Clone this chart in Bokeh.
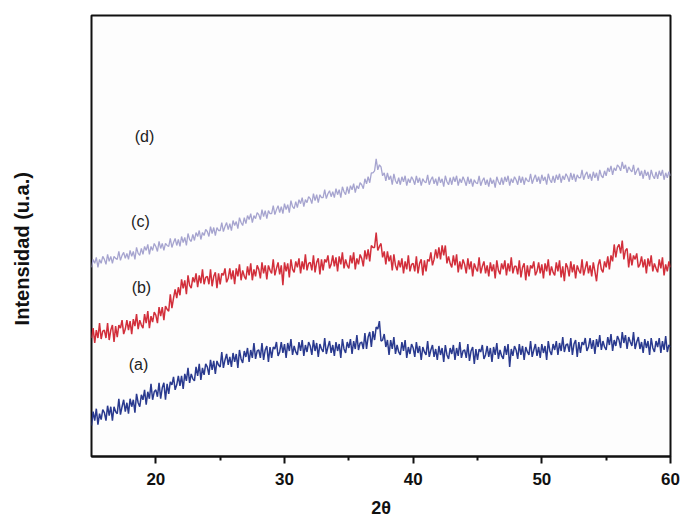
import math
import numpy as np
from bokeh.plotting import figure
from bokeh.layouts import row
from bokeh.models import FixedTicker, Range1d
from bokeh.core.properties import value
from bokeh.embed import file_html
from bokeh.resources import INLINE

# 2-theta sampling grid (degrees), one value every 0.125 deg
two_theta = np.round(np.arange(15.0, 60.0001, 0.125), 3)

# Intensities (arbitrary units); one row per degree, 15..59, then 60
curve_a = [
    31, 45, 36, 48, 32, 43, 37, 47,
    44, 36, 51, 41, 50, 36, 50, 45,
    43, 58, 42, 50, 57, 45, 54, 43,
    58, 50, 57, 44, 63, 54, 50, 62,
    57, 67, 52, 65, 58, 73, 57, 65,
    67, 60, 74, 58, 69, 74, 57, 73,
    63, 75, 72, 80, 67, 72, 81, 71,
    81, 68, 83, 76, 89, 74, 83, 78,
    76, 90, 81, 93, 77, 89, 82, 93,
    90, 82, 97, 87, 96, 83, 96, 92,
    90, 105, 89, 97, 103, 92, 100, 90,
    104, 95, 103, 89, 107, 98, 94, 106,
    100, 109, 95, 107, 99, 114, 98, 106,
    107, 99, 114, 97, 107, 111, 95, 110,
    99, 110, 108, 115, 101, 105, 115, 104,
    113, 99, 114, 106, 118, 102, 111, 105,
    102, 115, 106, 117, 101, 112, 105, 115,
    111, 102, 117, 106, 114, 100, 113, 108,
    105, 119, 103, 110, 116, 104, 112, 101,
    115, 106, 113, 99, 118, 108, 104, 115,
    109, 118, 103, 116, 108, 122, 107, 114,
    115, 108, 124, 108, 120, 125, 110, 126,
    117, 130, 128, 136, 116, 117, 123, 110,
    117, 102, 117, 108, 120, 103, 112, 105,
    102, 115, 106, 117, 99, 110, 103, 113,
    109, 100, 115, 104, 111, 97, 110, 105,
    102, 116, 100, 107, 112, 100, 108, 97,
    111, 102, 109, 95, 112, 102, 98, 109,
    103, 112, 97, 109, 101, 115, 99, 106,
    107, 99, 113, 96, 106, 110, 93, 108,
    97, 108, 105, 112, 98, 102, 111, 100,
    109, 95, 110, 102, 114, 98, 107, 101,
    98, 111, 102, 113, 90, 108, 101, 111,
    107, 98, 113, 102, 111, 97, 110, 105,
    102, 116, 100, 107, 113, 101, 110, 99,
    113, 104, 111, 97, 116, 106, 102, 113,
    107, 116, 102, 114, 106, 120, 105, 112,
    113, 105, 119, 102, 113, 117, 100, 115,
    104, 115, 112, 119, 106, 110, 119, 108,
    117, 103, 118, 110, 122, 107, 116, 110,
    107, 120, 112, 123, 106, 117, 111, 121,
    117, 109, 125, 114, 122, 108, 120, 115,
    111, 125, 108, 115, 120, 108, 115, 104,
    118, 109, 116, 102, 119, 109, 105, 116,
    110, 119, 104, 116, 107, 121, 105, 112,
    110,
]
curve_b = [
    119, 129, 114, 127, 119, 134, 118, 126,
    127, 119, 134, 117, 127, 132, 115, 131,
    120, 132, 129, 137, 123, 128, 137, 127,
    136, 123, 138, 131, 143, 128, 137, 132,
    129, 143, 134, 146, 129, 141, 135, 145,
    142, 134, 150, 141, 150, 137, 151, 148,
    146, 163, 149, 159, 168, 159, 170, 162,
    178, 169, 177, 163, 182, 172, 169, 180,
    175, 184, 170, 182, 174, 188, 173, 180,
    181, 173, 188, 171, 181, 185, 169, 184,
    173, 184, 182, 189, 175, 179, 189, 178,
    187, 173, 189, 181, 193, 177, 187, 181,
    178, 191, 182, 194, 177, 188, 181, 192,
    188, 179, 195, 184, 192, 178, 192, 187,
    184, 198, 182, 189, 195, 183, 192, 172,
    195, 186, 194, 180, 198, 188, 185, 196,
    190, 199, 184, 196, 188, 203, 187, 194,
    195, 187, 202, 185, 195, 199, 183, 198,
    187, 198, 195, 202, 189, 193, 202, 191,
    200, 186, 201, 193, 205, 189, 198, 192,
    189, 202, 194, 205, 188, 199, 193, 203,
    199, 191, 207, 198, 208, 196, 212, 210,
    210, 225, 207, 211, 214, 200, 206, 193,
    206, 196, 202, 187, 203, 192, 187, 197,
    190, 199, 184, 196, 188, 202, 186, 193,
    194, 186, 201, 184, 194, 198, 182, 197,
    186, 198, 196, 205, 192, 198, 208, 199,
    210, 198, 212, 202, 212, 194, 201, 194,
    190, 202, 192, 203, 185, 196, 188, 198,
    193, 184, 199, 188, 196, 181, 194, 189,
    186, 200, 184, 191, 196, 184, 192, 181,
    195, 186, 193, 179, 197, 187, 183, 194,
    188, 197, 182, 194, 186, 200, 184, 191,
    191, 183, 197, 180, 190, 194, 177, 192,
    181, 192, 189, 196, 182, 186, 195, 184,
    193, 179, 194, 186, 198, 182, 191, 185,
    182, 195, 186, 197, 180, 191, 176, 194,
    190, 181, 196, 185, 193, 179, 192, 187,
    184, 198, 182, 189, 196, 184, 192, 181,
    195, 186, 176, 192, 198, 188, 185, 196,
    190, 201, 188, 202, 196, 213, 200, 210,
    213, 204, 217, 198, 207, 209, 190, 204,
    192, 202, 198, 204, 190, 193, 201, 190,
    198, 184, 199, 191, 202, 186, 194, 189,
    185, 198, 189, 200, 182, 193, 186, 196,
    190,
]
curve_c = [
    190, 198, 194, 200, 190, 198, 194, 201,
    198, 193, 203, 196, 201, 194, 201, 199,
    198, 206, 197, 202, 205, 199, 204, 198,
    207, 201, 206, 198, 210, 204, 202, 209,
    203, 211, 207, 213, 203, 211, 207, 214,
    211, 206, 216, 209, 214, 207, 214, 212,
    211, 219, 210, 215, 219, 212, 218, 211,
    221, 215, 220, 212, 224, 218, 216, 223,
    217, 225, 221, 227, 218, 225, 222, 228,
    226, 221, 231, 224, 230, 222, 230, 227,
    227, 235, 226, 231, 235, 228, 234, 227,
    237, 232, 236, 229, 240, 235, 232, 240,
    234, 242, 238, 244, 235, 242, 239, 245,
    243, 238, 248, 241, 247, 239, 247, 244,
    244, 252, 243, 248, 252, 245, 251, 244,
    254, 248, 253, 245, 257, 251, 249, 256,
    250, 258, 254, 260, 251, 258, 255, 261,
    259, 254, 264, 257, 263, 255, 263, 260,
    260, 268, 259, 264, 267, 261, 266, 260,
    269, 263, 268, 260, 271, 266, 263, 271,
    264, 272, 268, 274, 265, 272, 269, 275,
    273, 269, 279, 274, 281, 275, 285, 285,
    287, 299, 288, 293, 291, 282, 285, 277,
    285, 278, 282, 273, 284, 277, 274, 280,
    273, 281, 276, 282, 272, 279, 275, 281,
    278, 273, 282, 275, 280, 272, 279, 276,
    275, 283, 273, 278, 281, 274, 279, 272,
    281, 275, 279, 271, 282, 276, 273, 280,
    273, 281, 276, 282, 272, 279, 275, 281,
    277, 272, 281, 274, 279, 271, 278, 275,
    274, 282, 272, 277, 280, 273, 278, 271,
    280, 274, 278, 270, 281, 276, 273, 280,
    273, 281, 276, 282, 272, 279, 275, 281,
    278, 273, 282, 275, 281, 273, 280, 277,
    276, 284, 274, 279, 283, 276, 281, 274,
    283, 277, 281, 273, 284, 278, 275, 282,
    275, 283, 278, 284, 275, 282, 278, 284,
    281, 276, 285, 278, 284, 276, 283, 280,
    280, 288, 278, 283, 286, 279, 284, 277,
    286, 280, 285, 277, 288, 282, 280, 287,
    282, 290, 286, 292, 283, 290, 287, 293,
    291, 287, 296, 289, 293, 285, 291, 288,
    286, 293, 283, 287, 290, 282, 287, 279,
    288, 282, 286, 278, 288, 282, 279, 286,
    279, 287, 282, 288, 278, 285, 280, 286,
    282,
]

series_colors = ["#2a3a8f", "#d22f3b", "#a6a4cf"]
series_widths = [1.5, 1.5, 1.3]

label_text = ["(a)", "(b)", "(c)", "(d)"]
label_x = [18.65, 18.88, 18.8, 19.12]
label_y = [92, 170, 236, 321]

major_ticks = [20, 30, 40, 50, 60]
minor_ticks = [25, 35, 45, 55]

y_title = "Intensidad (u.a.)"
x_title = "2θ"

FONT = "Liberation Sans"

# narrow side panel that carries the vertical axis title (pixel coordinates)
side = figure(width=90, height=520, output_backend="svg", toolbar_location=None,
              x_range=Range1d(0, 90), y_range=Range1d(0, 520),
              min_border=0, min_border_left=0, min_border_right=0,
              min_border_top=0, min_border_bottom=0)
side.axis.visible = False
side.grid.visible = False
side.outline_line_color = None
side.background_fill_color = "#ffffff"
side.border_fill_color = "#ffffff"
side.text(x=[21], y=[245], text=[y_title], angle=math.pi / 2,
          text_font=value(FONT), text_font_style="bold", text_font_size="20px",
          text_color="#111111", text_align="center", text_baseline="middle")

p = figure(width=591, height=520, output_backend="svg", toolbar_location=None,
           x_range=Range1d(15, 60), y_range=Range1d(0, 443),
           min_border_left=1, min_border_right=11, min_border_top=15, min_border_bottom=62)
p.background_fill_color = "#fdfdfd"
p.border_fill_color = "#ffffff"
p.outline_line_color = "#111111"
p.outline_line_width = 2
p.grid.visible = False
p.yaxis.visible = False

for ys, col, lw in zip([curve_a, curve_b, curve_c], series_colors, series_widths):
    p.line(two_theta, ys, line_color=col, line_width=lw)

p.text(x=label_x, y=label_y, text=label_text, text_font=value(FONT),
       text_font_size="16px", text_color="#222222", text_align="center",
       text_baseline="middle")

xa = p.xaxis[0]
xa.ticker = FixedTicker(ticks=major_ticks, minor_ticks=minor_ticks)
xa.axis_line_color = "#111111"
xa.axis_line_width = 2
xa.major_tick_line_color = "#111111"
xa.major_tick_line_width = 2
xa.major_tick_out = 7
xa.major_tick_in = 0
xa.minor_tick_line_color = "#111111"
xa.minor_tick_line_width = 2
xa.minor_tick_out = 4
xa.minor_tick_in = 0
xa.major_label_text_font = FONT
xa.major_label_text_font_style = "bold"
xa.major_label_text_font_size = "17px"
xa.major_label_text_color = "#111111"
xa.major_label_standoff = 9
xa.axis_label = x_title
xa.axis_label_text_font = FONT
xa.axis_label_text_font_style = "bold"
xa.axis_label_text_font_size = "18px"
xa.axis_label_text_color = "#111111"
xa.axis_label_standoff = 10

layout = row(side, p, spacing=0)

open("out.html", "w").write(file_html(layout, INLINE))
